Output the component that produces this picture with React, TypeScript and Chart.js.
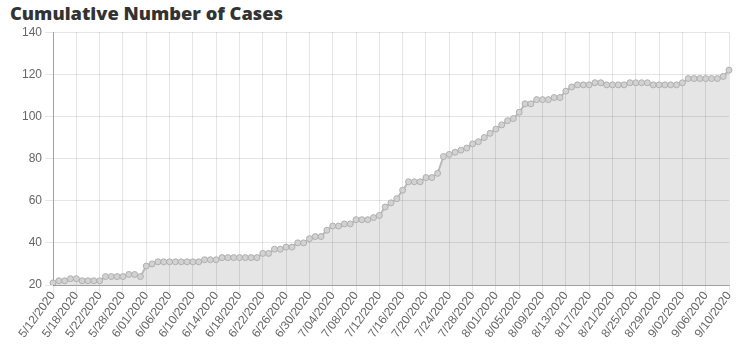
import React, { useEffect, useRef } from "react";
import { Chart, registerables } from "chart.js";

Chart.register(...registerables);

const dates: string[] = [
  "5/12/2020", "5/13/2020", "5/14/2020", "5/15/2020", "5/18/2020", "5/19/2020", "5/20/2020", "5/21/2020",
  "5/22/2020", "5/25/2020", "5/26/2020", "5/27/2020", "5/28/2020", "5/29/2020", "5/30/2020", "5/31/2020",
  "6/01/2020", "6/02/2020", "6/04/2020", "6/05/2020",
  "6/06/2020", "6/07/2020", "6/08/2020", "6/09/2020", "6/10/2020", "6/11/2020", "6/12/2020", "6/13/2020",
  "6/14/2020", "6/15/2020", "6/16/2020", "6/17/2020", "6/18/2020", "6/19/2020", "6/20/2020", "6/21/2020",
  "6/22/2020", "6/23/2020", "6/24/2020", "6/25/2020", "6/26/2020", "6/27/2020", "6/28/2020", "6/29/2020",
  "6/30/2020", "7/01/2020", "7/02/2020", "7/03/2020", "7/04/2020", "7/05/2020", "7/06/2020", "7/07/2020",
  "7/08/2020", "7/09/2020", "7/10/2020", "7/11/2020", "7/12/2020", "7/13/2020", "7/14/2020", "7/15/2020",
  "7/16/2020", "7/17/2020", "7/18/2020", "7/19/2020", "7/20/2020", "7/21/2020", "7/22/2020", "7/23/2020",
  "7/24/2020", "7/25/2020", "7/26/2020", "7/27/2020", "7/28/2020", "7/29/2020", "7/30/2020", "7/31/2020",
  "8/01/2020", "8/02/2020", "8/03/2020", "8/04/2020", "8/05/2020", "8/06/2020", "8/07/2020", "8/08/2020",
  "8/09/2020", "8/10/2020", "8/11/2020", "8/12/2020", "8/13/2020", "8/14/2020", "8/15/2020", "8/16/2020",
  "8/17/2020", "8/18/2020", "8/19/2020", "8/20/2020", "8/21/2020", "8/22/2020", "8/23/2020", "8/24/2020",
  "8/25/2020", "8/26/2020", "8/27/2020", "8/28/2020", "8/29/2020", "8/30/2020", "8/31/2020", "9/01/2020",
  "9/02/2020", "9/03/2020", "9/04/2020", "9/05/2020", "9/06/2020", "9/07/2020", "9/08/2020", "9/09/2020",
  "9/10/2020",
];

const cases: number[] = [
  21, 22, 22, 23, 23, 22, 22, 22,
  22, 24, 24, 24, 24, 25, 25, 24,
  29, 30, 31, 31,
  31, 31, 31, 31, 31, 31, 32, 32,
  32, 33, 33, 33, 33, 33, 33, 33,
  35, 35, 37, 37, 38, 38, 40, 40,
  42, 43, 43, 46, 48, 48, 49, 49,
  51, 51, 51, 52, 53, 57, 59, 61,
  65, 69, 69, 69, 71, 71, 73, 81,
  82, 83, 84, 85, 87, 88, 90, 92,
  94, 96, 98, 99, 102, 106, 106, 108,
  108, 108, 109, 109, 112, 114, 115, 115,
  115, 116, 116, 115, 115, 115, 115, 116,
  116, 116, 116, 115, 115, 115, 115, 115,
  116, 118, 118, 118, 118, 118, 118, 119,
  122,
];

const yTicks = { min: 20, max: 140, step: 20 };
const labelEvery = 4;

export default function App() {
  const ref = useRef<HTMLCanvasElement | null>(null);
  useEffect(() => {
    if (!ref.current) return;
    const chart = new Chart(ref.current, {
      type: "line",
      data: {
        labels: dates,
        datasets: [
          {
            data: cases,
            fill: true,
            backgroundColor: "rgba(0,0,0,0.1)",
            borderColor: "rgba(185,185,185,1)",
            borderWidth: 2,
            pointRadius: 3,
            pointBackgroundColor: "rgba(210,210,210,1)",
            pointBorderColor: "rgba(175,175,175,1)",
            pointBorderWidth: 1,
            tension: 0,
          },
        ],
      },
      options: {
        animation: false,
        responsive: false,
        maintainAspectRatio: false,
        layout: { padding: { left: 19, right: 10, top: 4, bottom: 7 } },
        plugins: { legend: { display: false }, tooltip: { enabled: false } },
        scales: {
          x: {
            afterFit: (scale: any) => {
              scale.height = 60;
            },
            grid: { color: "rgba(0,0,0,0.1)", tickLength: 8 },
            border: { color: "rgba(0,0,0,0.3)" },
            ticks: {
              autoSkip: false,
              minRotation: 54,
              maxRotation: 54,
              padding: -4,
              color: "#666",
              font: { family: "'Liberation Sans', Arial, sans-serif", size: 12 },
              callback: function (this: any, val: any, idx: number) {
                return idx % labelEvery === 0 ? this.getLabelForValue(val) : null;
              },
            },
          },
          y: {
            min: yTicks.min,
            max: yTicks.max,
            grid: { color: "rgba(0,0,0,0.1)", tickLength: 8 },
            border: { color: "rgba(0,0,0,0.3)" },
            ticks: {
              stepSize: yTicks.step,
              color: "#666",
              padding: 3,
              font: { family: "'Liberation Sans', Arial, sans-serif", size: 12 },
            },
          },
        },
      },
    });
    return () => chart.destroy();
  }, []);

  return (
    <div style={{ position: "absolute", left: 0, top: 0, width: 739, height: 352, background: "#fff", overflow: "hidden" }}>
      <div
        style={{
          position: "absolute",
          left: 10,
          top: 0,
          fontFamily: "'Open Sans', sans-serif",
          fontWeight: 800,
          fontSize: 18.3,
          color: "#333",
          lineHeight: "26px",
          whiteSpace: "nowrap",
        }}
      >
        Cumulative Number of Cases
      </div>
      <canvas ref={ref} width={739} height={330} style={{ position: "absolute", left: 0, top: 22, width: 739, height: 330 }} />
    </div>
  );
}
